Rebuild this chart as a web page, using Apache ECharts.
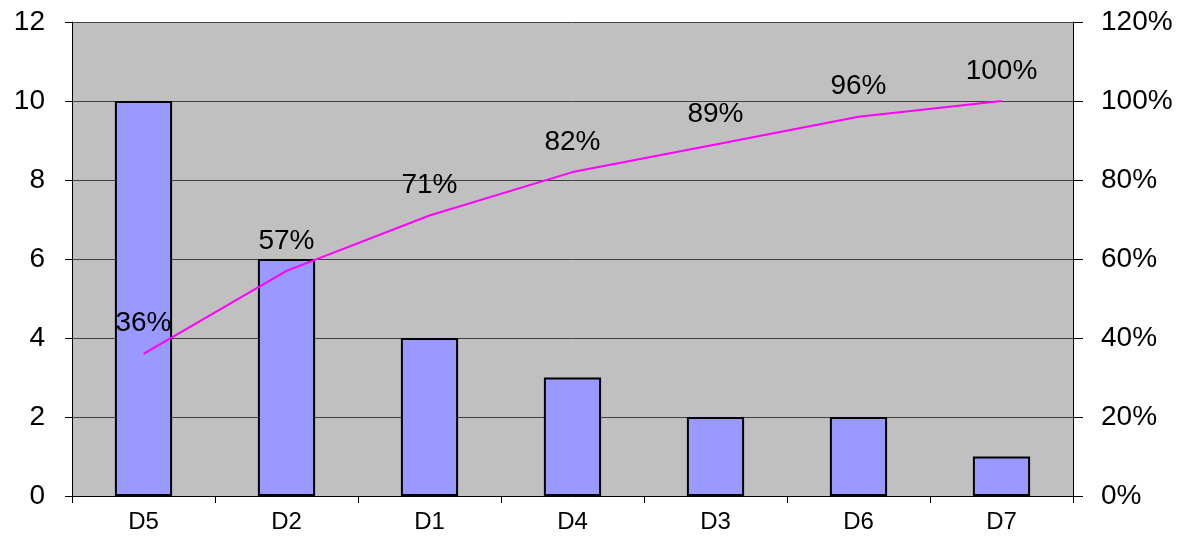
<!DOCTYPE html>
<html><head><meta charset="utf-8">
<script src="https://cdn.jsdelivr.net/npm/echarts@6/dist/echarts.min.js"></script>
<style>html,body{margin:0;padding:0;background:#fff}#c{width:1197px;height:540px}</style>
</head><body><div id="c"></div>
<script>
const categories = ['D5','D2','D1','D4','D3','D6','D7'];
const counts = [10, 6, 4, 3, 2, 2, 1];
const cumulativePct = [36, 57, 71, 82, 89, 96, 100];
const leftTicks = {min: 0, max: 12, interval: 2};
const rightTicks = {min: 0, max: 120, interval: 20};

const font = '"Liberation Sans", Arial, sans-serif';
const chart = echarts.init(document.getElementById('c'), null, {renderer: 'canvas'});
chart.setOption({
  animation: false,
  grid: {left: 72, right: 124, top: 22, bottom: 44, show: true, backgroundColor: '#C0C0C0', borderWidth: 0},
  xAxis: {
    type: 'category', data: categories,
    axisLine: {lineStyle: {color: '#000', width: 1}},
    axisTick: {show: true, length: 7, lineStyle: {color: '#000'}},
    axisLabel: {color: '#000', fontSize: 24, fontFamily: font, margin: 14}
  },
  yAxis: [{
    type: 'value', min: leftTicks.min, max: leftTicks.max, interval: leftTicks.interval,
    axisLine: {show: true, lineStyle: {color: '#000'}},
    axisTick: {show: true, length: 7, lineStyle: {color: '#000'}},
    splitLine: {show: true, lineStyle: {color: '#404040', width: 1}},
    axisLabel: {color: '#000', fontSize: 28, fontFamily: font, margin: 27}
  }, {
    type: 'value', min: rightTicks.min, max: rightTicks.max, interval: rightTicks.interval,
    position: 'right',
    axisLine: {show: true, lineStyle: {color: '#000'}},
    axisTick: {show: true, length: 10, lineStyle: {color: '#000'}},
    splitLine: {show: false},
    axisLabel: {color: '#000', fontSize: 28, fontFamily: font, margin: 28, formatter: '{value}%'}
  }],
  series: [{
    type: 'bar', data: counts, yAxisIndex: 0, barWidth: '40%',
    itemStyle: {color: '#9999FF', borderColor: '#000', borderWidth: 2}
  }, {
    type: 'line', data: cumulativePct, yAxisIndex: 1,
    symbol: 'circle', symbolSize: 0.1, showSymbol: true,
    itemStyle: {color: 'rgba(0,0,0,0)'},
    lineStyle: {color: '#FF00FF', width: 2},
    label: {show: true, position: 'top', distance: 16, color: '#000', fontSize: 28, fontFamily: font, formatter: '{c}%'}
  }]
});
</script></body></html>
